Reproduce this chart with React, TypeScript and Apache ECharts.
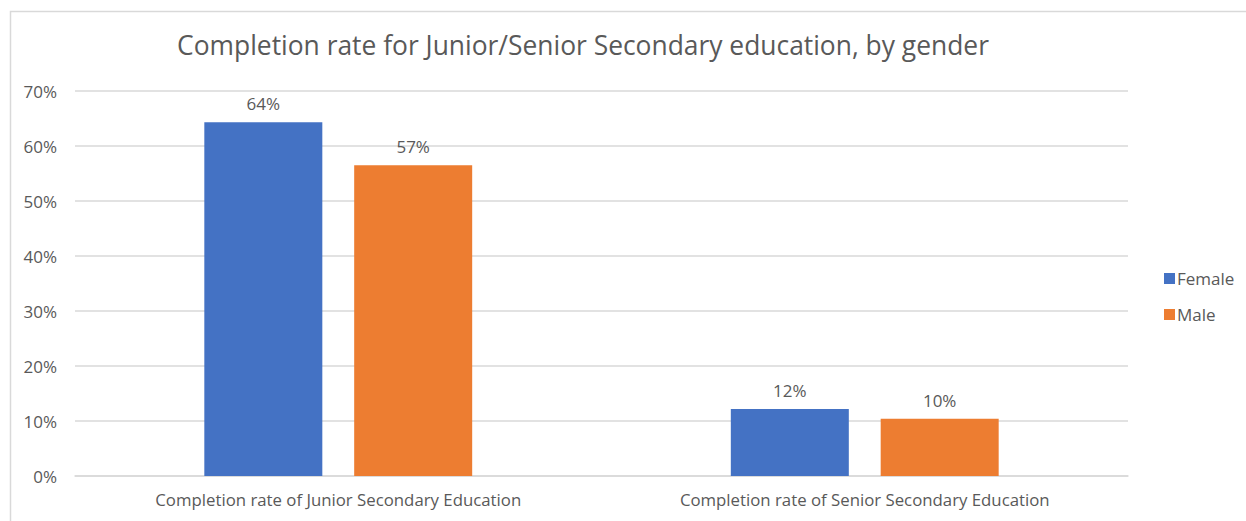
import React, { useEffect, useRef } from "react";
import * as echarts from "echarts";

const categories = [
  "Completion rate of Junior Secondary Education",
  "Completion rate of Senior Secondary Education",
];
const femaleValues = [64.3, 12.2];
const maleValues = [56.5, 10.4];
const seriesNames = ["Female", "Male"];
const titleText = "Completion rate for Junior/Senior Secondary education, by gender";

const FONT = "'Open Sans', 'Noto Sans', sans-serif";
const TEXT = "#595959";

export default function App() {
  const ref = useRef<HTMLDivElement>(null);
  useEffect(() => {
    if (!ref.current) return;
    const chart = echarts.init(ref.current, null, { renderer: "svg" });
    const label = {
      show: true,
      position: "top",
      distance: 10,
      color: TEXT,
      fontSize: 17,
      fontFamily: FONT,
      formatter: (p: any) => Math.round(p.value) + "%",
    };
    chart.setOption({
      animation: false,
      backgroundColor: "#ffffff",
      title: {
        text: titleText,
        left: 578,
        textAlign: "center",
        top: 27,
        textStyle: { color: TEXT, fontSize: 26.4, fontWeight: "normal", fontFamily: FONT },
      },
      graphic: [
        {
          type: "rect",
          shape: { x: 10.5, y: 11.5, width: 1400, height: 700 },
          style: { fill: "none", stroke: "#d9d9d9", lineWidth: 1.5 },
          silent: true,
        },
      ],
      legend: {
        orient: "vertical",
        left: 1159,
        top: 262,
        itemWidth: 11,
        itemHeight: 11,
        itemGap: 13,
        icon: "rect",
        data: seriesNames,
        textStyle: { color: TEXT, fontSize: 17, fontFamily: FONT, padding: [0, 0, 0, -3], lineHeight: 23 },
      },
      grid: { left: 75, right: 118, top: 91, bottom: 45, containLabel: false },
      xAxis: {
        type: "category",
        data: categories,
        axisLine: { show: true, lineStyle: { color: "#d9d9d9", width: 1.5 } },
        axisTick: { show: false },
        axisLabel: { color: TEXT, fontSize: 16.8, fontFamily: FONT, margin: 15 },
      },
      yAxis: {
        type: "value",
        min: 0,
        max: 70,
        interval: 10,
        axisLine: { show: false },
        axisTick: { show: false },
        splitLine: { lineStyle: { color: "#d9d9d9", width: 1.5 } },
        axisLabel: {
          color: TEXT,
          fontSize: 17,
          fontFamily: FONT,
          margin: 18,
          formatter: (v: number) => v + "%",
        },
      },
      series: [
        {
          name: seriesNames[0],
          type: "bar",
          data: femaleValues,
          barWidth: 118,
          barGap: "27%",
          itemStyle: { color: "#4472c4" },
          label,
        },
        {
          name: seriesNames[1],
          type: "bar",
          data: maleValues,
          barWidth: 118,
          barGap: "27%",
          itemStyle: { color: "#ed7d31" },
          label,
        },
      ],
    });
    return () => chart.dispose();
  }, []);
  return (
    <div
      ref={ref}
      style={{ position: "fixed", left: 0, top: 0, width: 1246, height: 521 }}
    />
  );
}
